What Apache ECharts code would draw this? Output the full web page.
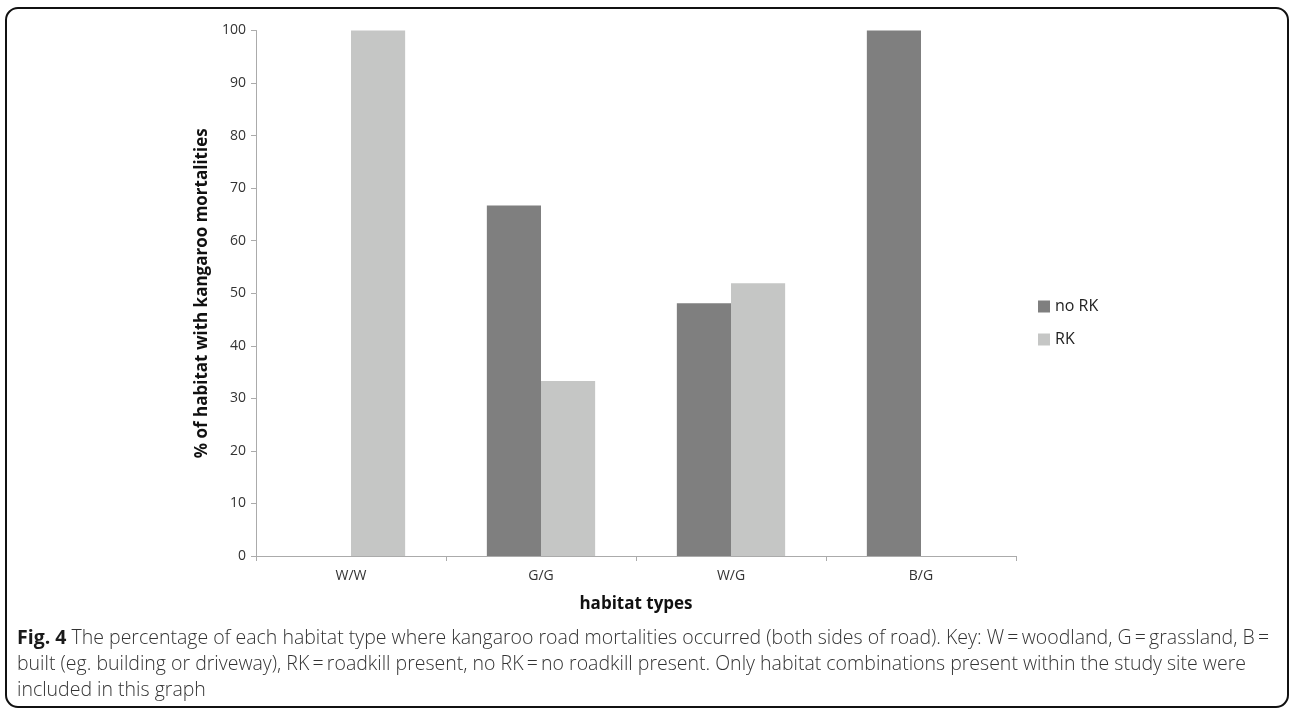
<!DOCTYPE html>
<html>
<head>
<meta charset="utf-8">
<script src="https://cdn.jsdelivr.net/npm/echarts@6/dist/echarts.min.js"></script>
<style>
html,body{margin:0;padding:0;background:#fff;}
#chart{width:1292px;height:711px;}
</style>
</head>
<body>
<div id="chart"></div>
<script>
const categories = ['W/W', 'G/G', 'W/G', 'B/G'];
const noRK = [0, 66.7, 48.1, 100];
const rk = [100, 33.3, 51.9, 0];
const seriesNames = ['no RK', 'RK'];
const yMin = 0, yMax = 100, yStep = 10;
const captionLines = [
  ['Fig. 4', ' The percentage of each habitat type where kangaroo road mortalities occurred (both sides of road). Key: W\u2009=\u2009woodland, G\u2009=\u2009grassland, B\u2009='],
  ['', 'built (eg. building or driveway), RK\u2009=\u2009roadkill present, no RK\u2009=\u2009no roadkill present. Only habitat combinations present within the study site were'],
  ['', 'included in this graph']
];

const chart = echarts.init(document.getElementById('chart'));
const FONT = 'Open Sans';

const captionGraphics = captionLines.map((ln, i) => ({
  type: 'text',
  left: 17,
  top: 628 + i * 26,
  style: {
    text: (ln[0] ? '{b|' + ln[0] + '}' : '') + '{n|' + ln[1] + '}',
    rich: {
      b: { fontFamily: FONT, fontWeight: 'bold', fontSize: 19.5, fill: '#1a1a1a' },
      n: { fontFamily: FONT, fontWeight: 300, fontSize: 19.5, fill: '#333' }
    }
  }
}));

chart.setOption({
  animation: false,
  textStyle: { fontFamily: FONT },
  grid: { left: 256, right: 276, top: 30.5, bottom: 155, containLabel: false },
  legend: {
    orient: 'vertical',
    left: 1038,
    top: 296,
    padding: 0,
    itemWidth: 12,
    itemHeight: 12,
    itemGap: 12,
    icon: 'rect',
    data: seriesNames,
    textStyle: { fontFamily: FONT, fontSize: 16, color: '#222', lineHeight: 21 }
  },
  xAxis: {
    type: 'category',
    data: categories,
    name: 'habitat types',
    nameLocation: 'middle',
    nameGap: 40,
    nameTextStyle: { fontFamily: FONT, fontWeight: 'bold', fontSize: 17, color: '#111' },
    axisLine: { lineStyle: { color: '#ababab', width: 1 } },
    axisTick: { show: true, length: 5, lineStyle: { color: '#ababab' } },
    axisLabel: { fontFamily: FONT, fontSize: 14, color: '#333', margin: 13 },
    splitLine: { show: false }
  },
  yAxis: {
    type: 'value',
    min: yMin,
    max: yMax,
    interval: yStep,
    name: '% of habitat with kangaroo mortalities',
    nameLocation: 'middle',
    nameGap: 45,
    nameRotate: 90,
    nameTextStyle: { fontFamily: FONT, fontWeight: 'bold', fontSize: 17, color: '#111' },
    axisLine: { show: true, lineStyle: { color: '#ababab', width: 1 } },
    axisTick: { show: true, length: 5, lineStyle: { color: '#ababab' } },
    axisLabel: { fontFamily: FONT, fontSize: 14, color: '#333', margin: 10 },
    splitLine: { show: false }
  },
  series: [
    {
      name: seriesNames[0], type: 'bar', data: noRK,
      barGap: '0%', barCategoryGap: '43%',
      itemStyle: { color: '#7f7f7f' }
    },
    {
      name: seriesNames[1], type: 'bar', data: rk,
      barGap: '0%', barCategoryGap: '43%',
      itemStyle: { color: '#c5c6c5' }
    }
  ],
  graphic: [
    {
      type: 'rect',
      shape: { x: 6, y: 8, width: 1282, height: 699, r: 12 },
      style: { fill: 'none', stroke: '#111', lineWidth: 2 },
      silent: true
    }
  ].concat(captionGraphics)
});
</script>
</body>
</html>
